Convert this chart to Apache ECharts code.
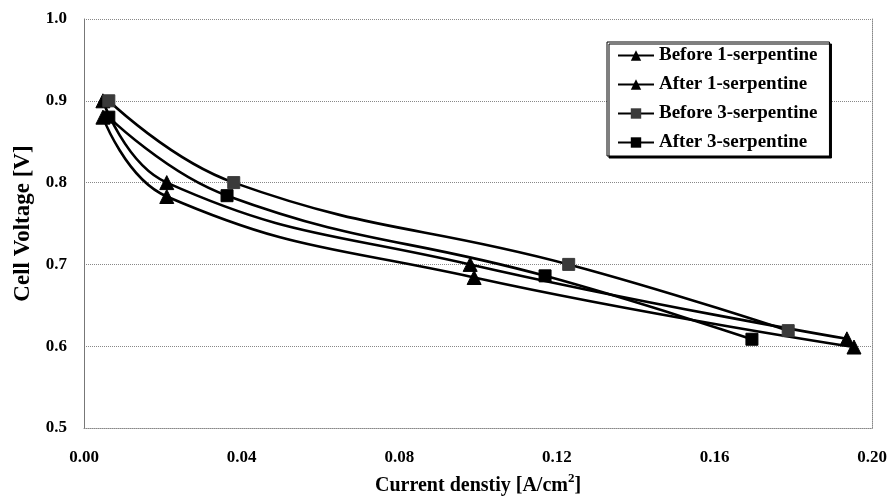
<!DOCTYPE html>
<html>
<head>
<meta charset="utf-8">
<script src="https://cdn.jsdelivr.net/npm/echarts@6/dist/echarts.min.js"></script>
<style>html,body{margin:0;padding:0;background:#fff;}#c{width:890px;height:504px;}</style>
</head>
<body>
<div id="c"></div>
<script>
const seriesNames = ['Before 1-serpentine', 'After 1-serpentine', 'Before 3-serpentine', 'After 3-serpentine'];
const currentBefore1 = [0.0048, 0.021, 0.098, 0.1936];
const voltageBefore1 = [0.900, 0.800, 0.700, 0.609];
const currentAfter1 = [0.0048, 0.021, 0.099, 0.1954];
const voltageAfter1 = [0.880, 0.783, 0.684, 0.599];
const currentBefore3 = [0.0063, 0.038, 0.123, 0.1787];
const voltageBefore3 = [0.900, 0.800, 0.700, 0.619];
const currentAfter3 = [0.0063, 0.0363, 0.117, 0.1695];
const voltageAfter3 = [0.880, 0.784, 0.686, 0.6085];
const xTicks = [0, 0.04, 0.08, 0.12, 0.16, 0.20];
const yTicks = [0.5, 0.6, 0.7, 0.8, 0.9, 1.0];

const pair = (xs, ys) => xs.map((x, i) => [x, ys[i]]);
const FONT = 'Liberation Serif';

function mk(name, xs, ys, symbol, color, size) {
  return {
    name: name, type: 'line', data: pair(xs, ys),
    smooth: 0.45, symbol: symbol, symbolSize: size,
    lineStyle: {color: '#000', width: 2.6},
    itemStyle: {color: color, borderColor: color},
    z: 3
  };
}

const chart = echarts.init(document.getElementById('c'), null, {renderer: 'canvas'});
chart.setOption({
  animation: false,
  backgroundColor: '#fff',
  grid: {left: 84, right: 17, top: 19, bottom: 76, containLabel: false},
  legend: {
    orient: 'vertical', left: 607, top: 42,
    data: seriesNames,
    itemWidth: 36, itemHeight: 13, itemGap: 10,
    padding: [4, 12, 4, 10],
    backgroundColor: '#fff', borderColor: '#000', borderWidth: 1,
    shadowColor: '#000', shadowOffsetX: 2, shadowOffsetY: 2, shadowBlur: 0,
    textStyle: {fontFamily: FONT, fontWeight: 'bold', fontSize: 19, color: '#000'}
  },
  xAxis: {
    type: 'value', min: xTicks[0], max: xTicks[xTicks.length - 1], interval: 0.04,
    name: '{n|Current denstiy [A/cm}{sup|2}{n|]}', nameLocation: 'middle', nameGap: 44,
    nameTextStyle: {fontFamily: FONT, fontWeight: 'bold', fontSize: 20, color: '#000',
      rich: {
        n: {fontFamily: FONT, fontWeight: 'bold', fontSize: 20, color: '#000', lineHeight: 24, verticalAlign: 'bottom'},
        sup: {fontFamily: FONT, fontWeight: 'bold', fontSize: 13, color: '#000', lineHeight: 24, verticalAlign: 'top'}
      }},
    axisLine: {show: true, lineStyle: {color: '#888', type: 'dotted', width: 1}},
    axisTick: {show: false},
    splitLine: {show: false},
    axisLabel: {margin: 21, fontFamily: FONT, fontWeight: 'bold', fontSize: 17, color: '#000',
      formatter: v => v.toFixed(2)}
  },
  yAxis: [{
    type: 'value', min: yTicks[0], max: yTicks[yTicks.length - 1], interval: 0.1,
    name: 'Cell Voltage [V]', nameLocation: 'middle', nameGap: 49,
    nameTextStyle: {fontFamily: FONT, fontWeight: 'bold', fontSize: 23, color: '#000'},
    axisLine: {show: true, lineStyle: {color: '#777', width: 1}},
    axisTick: {show: false},
    splitLine: {show: true, lineStyle: {color: '#888', type: 'dotted', width: 1}},
    axisLabel: {margin: 17, fontFamily: FONT, fontWeight: 'bold', fontSize: 17, color: '#000',
      formatter: v => v.toFixed(1)}
  }, {
    type: 'value', min: yTicks[0], max: yTicks[yTicks.length - 1], interval: 0.1, position: 'right',
    axisLine: {show: true, lineStyle: {color: '#888', type: 'dotted', width: 1}},
    axisTick: {show: false}, axisLabel: {show: false}, splitLine: {show: false}
  }],
  series: [
    mk(seriesNames[0], currentBefore1, voltageBefore1, 'triangle', '#000', 14),
    mk(seriesNames[1], currentAfter1, voltageAfter1, 'triangle', '#000', 14),
    mk(seriesNames[2], currentBefore3, voltageBefore3, 'rect', '#3a3a3a', 12),
    mk(seriesNames[3], currentAfter3, voltageAfter3, 'rect', '#000', 12)
  ]
});
</script>
</body>
</html>
